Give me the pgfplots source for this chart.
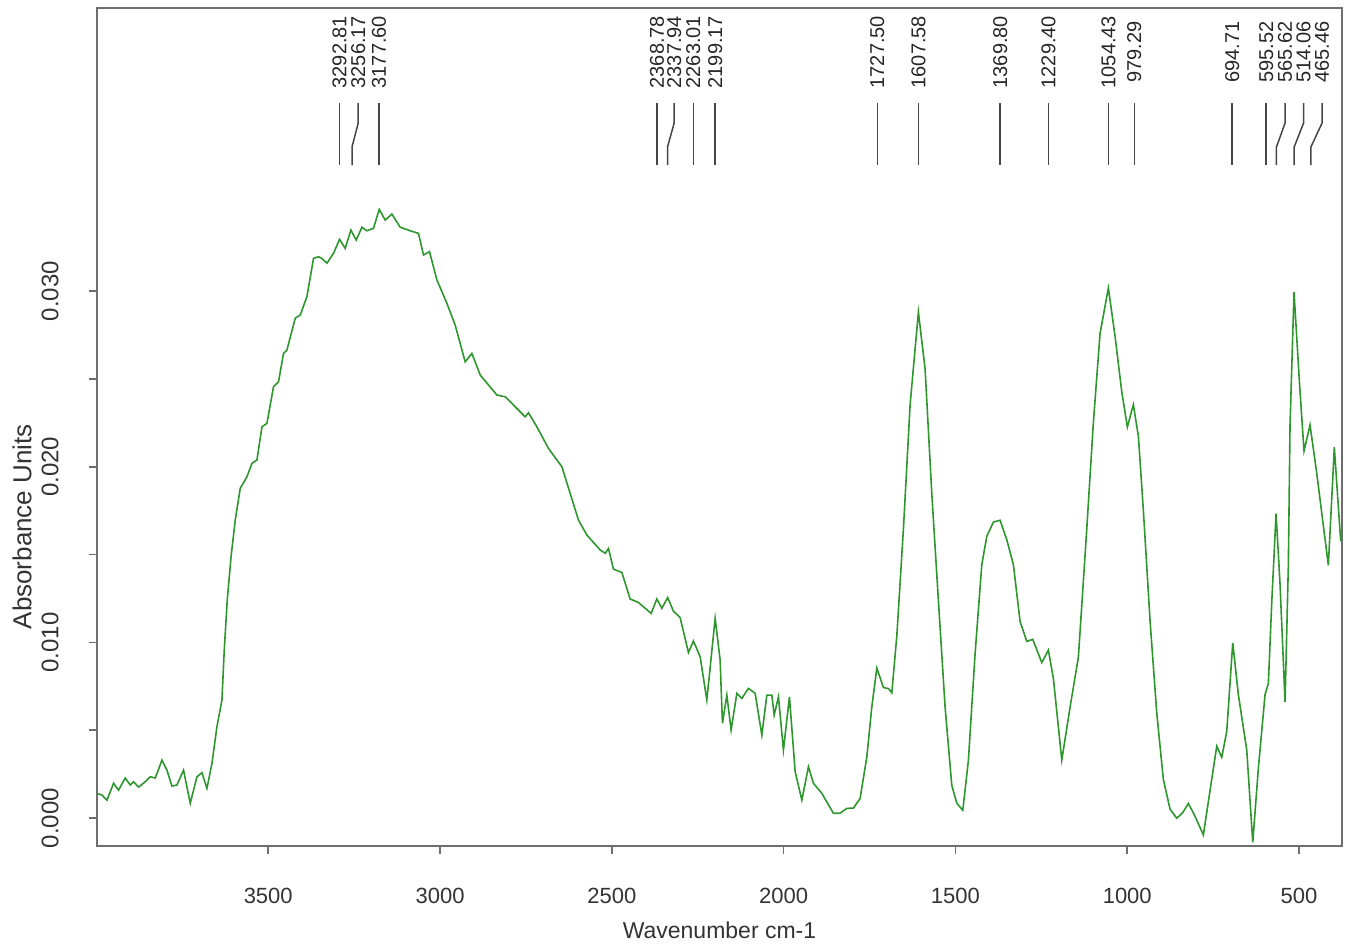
\documentclass[border=0pt]{standalone}
\usepackage{pgfplots}
\pgfplotsset{compat=1.18}
\usepackage{pgfplotstable}
\usepackage{fontspec}
\setmainfont{Liberation Sans}
\definecolor{spec}{RGB}{45,150,45}
\definecolor{frame}{RGB}{110,110,110}
\definecolor{ann}{RGB}{70,70,70}
\pgfplotstableread{
x y
3998.4 0.00141
3983.9 0.00131
3969.4 0.00102
3950.1 0.00198
3935.6 0.00159
3916.1 0.00228
3901.6 0.00188
3892.0 0.00207
3877.4 0.00176
3857.9 0.00207
3843.4 0.00235
3828.8 0.00228
3809.3 0.00330
3794.8 0.00273
3780.2 0.00182
3765.7 0.00188
3746.5 0.00273
3727.0 0.00084
3707.5 0.00235
3692.9 0.00258
3678.4 0.00169
3663.8 0.00311
3649.3 0.00520
3634.7 0.00672
3628.0 0.00956
3619.3 0.01241
3607.7 0.01497
3596.0 0.01696
3581.5 0.01877
3562.0 0.01943
3547.4 0.02019
3532.9 0.02038
3518.3 0.02227
3503.8 0.02247
3484.6 0.02455
3470.0 0.02484
3455.5 0.02645
3445.6 0.02664
3421.4 0.02845
3406.9 0.02863
3387.4 0.02968
3368.2 0.03186
3353.6 0.03195
3343.8 0.03186
3329.2 0.03158
3310.0 0.03215
3292.5 0.03294
3276.0 0.03243
3259.4 0.03347
3243.9 0.03290
3227.4 0.03363
3212.8 0.03343
3193.6 0.03357
3177.0 0.03465
3159.6 0.03404
3140.1 0.03438
3115.9 0.03363
3086.8 0.03343
3062.7 0.03328
3048.1 0.03205
3030.7 0.03224
3009.1 0.03063
2980.0 0.02930
2955.9 0.02806
2926.8 0.02597
2907.3 0.02645
2883.1 0.02522
2834.5 0.02408
2810.4 0.02398
2781.3 0.02341
2752.2 0.02284
2742.6 0.02307
2718.1 0.02227
2684.4 0.02104
2645.4 0.02000
2597.1 0.01696
2572.6 0.01611
2533.9 0.01526
2519.4 0.01507
2509.8 0.01535
2495.3 0.01417
2470.8 0.01398
2446.7 0.01247
2422.5 0.01227
2385.6 0.01165
2369.0 0.01247
2354.4 0.01194
2337.5 0.01255
2320.7 0.01178
2301.2 0.01141
2277.0 0.00942
2262.5 0.01008
2243.0 0.00918
2223.5 0.00672
2199.3 0.01137
2184.8 0.00899
2178.1 0.00539
2165.3 0.00700
2152.8 0.00501
2136.2 0.00710
2121.6 0.00681
2102.4 0.00738
2082.9 0.00710
2063.4 0.00472
2048.9 0.00700
2034.3 0.00700
2027.6 0.00586
2015.1 0.00690
2000.6 0.00387
1983.1 0.00690
1966.5 0.00264
1947.0 0.00102
1927.8 0.00292
1913.3 0.00198
1888.9 0.00141
1855.1 0.00027
1835.6 0.00028
1816.1 0.00055
1796.9 0.00057
1777.4 0.00112
1757.9 0.00348
1743.4 0.00632
1728.8 0.00854
1709.6 0.00743
1695.1 0.00737
1685.2 0.00713
1670.6 0.01037
1651.4 0.01645
1631.9 0.02353
1607.8 0.02880
1588.3 0.02556
1568.8 0.01847
1549.6 0.01239
1530.1 0.00632
1510.6 0.00186
1496.0 0.00085
1478.6 0.00044
1462.3 0.00328
1442.8 0.00935
1423.3 0.01442
1408.7 0.01604
1389.5 0.01685
1370.0 0.01695
1350.5 0.01584
1331.3 0.01442
1311.8 0.01118
1292.3 0.01006
1274.9 0.01017
1248.7 0.00885
1229.5 0.00956
1214.9 0.00794
1190.5 0.00330
1166.3 0.00632
1142.2 0.00915
1117.8 0.01645
1098.5 0.02253
1079.1 0.02759
1054.9 0.03017
1035.4 0.02742
1015.9 0.02426
999.6 0.02226
982.2 0.02353
967.6 0.02174
953.1 0.01753
933.6 0.01123
914.1 0.00598
894.9 0.00220
875.4 0.00051
855.9 -0.00001
838.4 0.00031
822.1 0.00083
802.6 0.00010
778.5 -0.00096
759.0 0.00157
739.5 0.00409
724.9 0.00346
710.4 0.00493
692.9 0.00997
676.6 0.00703
652.2 0.00388
634.7 -0.00138
618.4 0.00283
598.9 0.00703
589.3 0.00766
579.4 0.01228
566.9 0.01733
555.3 0.01333
540.7 0.00661
531.1 0.01439
526.2 0.02237
514.6 0.02994
499.1 0.02489
485.5 0.02090
468.0 0.02237
448.5 0.01964
431.0 0.01691
414.7 0.01439
404.9 0.01816
397.3 0.02111
388.6 0.01859
378.7 0.01575
}\spectrum
\begin{document}
\begin{tikzpicture}[
  plab/.style={rotate=90, anchor=center, inner sep=0pt, font=\fontsize{10}{12}\selectfont, text=black!85},
  aline/.style={ann, line width=0.75pt},
]
\begin{axis}[
  scale only axis, width=622.5pt, height=419pt,
  x dir=reverse, xmin=375, xmax=3998.4, ymin=-0.00159, ymax=0.04611,
  axis line style={frame, line width=1.1pt},
  tick style={frame, line width=0.8pt},
  tick pos=left,
  tick align=outside, major tick length=4pt, minor tick length=4pt,
  xtick={500,1000,1500,2000,2500,3000,3500},
  xticklabels={500,1000,1500,2000,2500,3000,3500},
  ytick={0,0.01,0.02,0.03},
  yticklabels={0.000,0.010,0.020,0.030},
  minor ytick={0.005,0.015,0.025},
  scaled y ticks=false, scaled x ticks=false,
  xticklabel style={font=\fontsize{11}{13}\selectfont, text=black!80, anchor=north, inner sep=0pt},
  yticklabel style={font=\fontsize{12}{14}\selectfont, text=black!80, rotate=90, anchor=south, inner sep=0pt},
  xticklabel shift=17pt, yticklabel shift=15pt,
  xlabel={Wavenumber cm-1}, ylabel={Absorbance Units},
  xlabel style={at={(axis description cs:0.5,-0.1002)}, anchor=center, font=\fontsize{11.5}{13}\selectfont, text=black!80},
  ylabel style={at={(axis description cs:-0.0602,0.381)}, anchor=center, font=\fontsize{13}{15}\selectfont, text=black!80},
  clip mode=individual,
]
\addplot[spec, line width=0.8pt, mark=none] table[x=x, y=y] {\spectrum};
\coordinate (sw) at (rel axis cs:0,0);
\coordinate (ne) at (rel axis cs:1,1);
% straight annotation lines
\draw[aline] (axis cs:3292.81,0.04070) -- (axis cs:3292.81,0.03717);
\draw[aline] (axis cs:3177.60,0.04070) -- (axis cs:3177.60,0.03717);
\draw[aline] (axis cs:2368.78,0.04070) -- (axis cs:2368.78,0.03717);
\draw[aline] (axis cs:2263.01,0.04070) -- (axis cs:2263.01,0.03717);
\draw[aline] (axis cs:2199.17,0.04070) -- (axis cs:2199.17,0.03717);
\draw[aline] (axis cs:1727.50,0.04070) -- (axis cs:1727.50,0.03717);
\draw[aline] (axis cs:1607.58,0.04070) -- (axis cs:1607.58,0.03717);
\draw[aline] (axis cs:1369.80,0.04070) -- (axis cs:1369.80,0.03717);
\draw[aline] (axis cs:1229.40,0.04070) -- (axis cs:1229.40,0.03717);
\draw[aline] (axis cs:1054.43,0.04070) -- (axis cs:1054.43,0.03717);
\draw[aline] (axis cs:979.29,0.04070) -- (axis cs:979.29,0.03717);
\draw[aline] (axis cs:694.71,0.04070) -- (axis cs:694.71,0.03717);
\draw[aline] (axis cs:595.52,0.04070) -- (axis cs:595.52,0.03717);
% bent annotation lines (label position, peak position)
\draw[aline] (axis cs:3238.1,0.04070) -- (axis cs:3238.1,0.03956) -- (axis cs:3256.17,0.03820) -- (axis cs:3256.17,0.03717);
\draw[aline] (axis cs:2318.6,0.04070) -- (axis cs:2318.6,0.03956) -- (axis cs:2337.94,0.03820) -- (axis cs:2337.94,0.03717);
\draw[aline] (axis cs:540.7,0.04070) -- (axis cs:540.7,0.03956) -- (axis cs:565.62,0.03820) -- (axis cs:565.62,0.03717);
\draw[aline] (axis cs:486.9,0.04070) -- (axis cs:486.9,0.03956) -- (axis cs:514.06,0.03820) -- (axis cs:514.06,0.03717);
\draw[aline] (axis cs:433.0,0.04070) -- (axis cs:433.0,0.03956) -- (axis cs:465.46,0.03820) -- (axis cs:465.46,0.03717);
% labels
\node[plab] at (axis cs:3292.81,0.04360) {3292.81};
\node[plab] at (axis cs:3238.1,0.04360) {3256.17};
\node[plab] at (axis cs:3177.60,0.04360) {3177.60};
\node[plab] at (axis cs:2368.78,0.04360) {2368.78};
\node[plab] at (axis cs:2318.6,0.04360) {2337.94};
\node[plab] at (axis cs:2263.01,0.04360) {2263.01};
\node[plab] at (axis cs:2199.17,0.04360) {2199.17};
\node[plab] at (axis cs:1727.50,0.04360) {1727.50};
\node[plab] at (axis cs:1607.58,0.04360) {1607.58};
\node[plab] at (axis cs:1369.80,0.04360) {1369.80};
\node[plab] at (axis cs:1229.40,0.04360) {1229.40};
\node[plab] at (axis cs:1054.43,0.04360) {1054.43};
\node[plab] at (axis cs:979.29,0.04360) {979.29};
\node[plab] at (axis cs:694.71,0.04360) {694.71};
\node[plab] at (axis cs:595.52,0.04360) {595.52};
\node[plab] at (axis cs:540.7,0.04360) {565.62};
\node[plab] at (axis cs:486.9,0.04360) {514.06};
\node[plab] at (axis cs:433.0,0.04360) {465.46};
\end{axis}
\pgfresetboundingbox
\path ([xshift=-48.5pt,yshift=-51.5pt]sw) rectangle ([xshift=4.5pt,yshift=4pt]ne);
\end{tikzpicture}
\end{document}
